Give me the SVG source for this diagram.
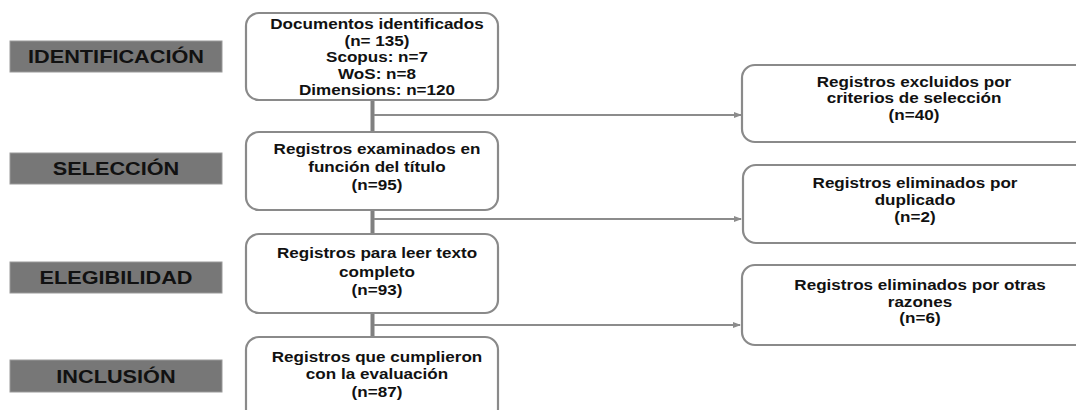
<svg xmlns="http://www.w3.org/2000/svg" width="1076" height="410" viewBox="0 0 1076 410">
<style>
.lab{fill:#777777;stroke:#9a9a9a;stroke-width:1}
.labt{font-family:"Liberation Sans",Arial,sans-serif;font-weight:bold;font-size:17.5px;fill:#111;text-anchor:middle}
.box{fill:#fff;stroke:#8a8a8a;stroke-width:2.2}
.t{font-family:"Liberation Sans",Arial,sans-serif;font-weight:bold;font-size:14px;fill:#111;text-anchor:middle}
.vc{stroke:#808080;stroke-width:4;fill:none}
.hc{stroke:#8c8c8c;stroke-width:2.2;fill:none}
</style>
<defs>
<marker id="ah" markerWidth="8" markerHeight="6" refX="7" refY="3" orient="auto" markerUnits="userSpaceOnUse">
<path d="M0,0 L8,3 L0,6 Z" fill="#8c8c8c"/>
</marker>
</defs>
<rect width="1076" height="410" fill="#fff"/>
<g id="label-identificacion"><rect class="lab" x="10" y="41" width="212" height="31"/><g transform="translate(116,0) scale(1.24,1)"><text class="labt" x="0" y="63">IDENTIFICACIÓN</text></g></g>
<g id="label-seleccion"><rect class="lab" x="10" y="153" width="212" height="31"/><g transform="translate(116,0) scale(1.24,1)"><text class="labt" x="0" y="175">SELECCIÓN</text></g></g>
<g id="label-elegibilidad"><rect class="lab" x="10" y="262" width="212" height="31"/><g transform="translate(116,0) scale(1.24,1)"><text class="labt" x="0" y="284">ELEGIBILIDAD</text></g></g>
<g id="label-inclusion"><rect class="lab" x="10" y="360" width="212" height="32"/><g transform="translate(116,0) scale(1.24,1)"><text class="labt" x="0" y="383">INCLUSIÓN</text></g></g>
<g id="connectors">
<line class="vc" x1="372.5" y1="100" x2="372.5" y2="337"/>
<line class="hc" x1="374" y1="115" x2="741" y2="115" marker-end="url(#ah)"/>
<line class="hc" x1="374" y1="219" x2="741" y2="219" marker-end="url(#ah)"/>
<line class="hc" x1="374" y1="325" x2="740" y2="325" marker-end="url(#ah)"/>
</g>
<g id="n-documentos"><rect class="box" x="246" y="13" width="252" height="87" rx="13"/>
<g transform="translate(377,0) scale(1.22,1)">
<text class="t" x="0" y="29">Documentos identificados</text>
<text class="t" x="0" y="46">(n= 135)</text>
<text class="t" x="0" y="62">Scopus: n=7</text>
<text class="t" x="0" y="79">WoS: n=8</text>
<text class="t" x="0" y="95">Dimensions: n=120</text></g></g>
<g id="n-examinados"><rect class="box" x="246" y="132" width="252" height="78" rx="13"/>
<g transform="translate(377,0) scale(1.22,1)">
<text class="t" x="0" y="154">Registros examinados en</text>
<text class="t" x="0" y="172">función del título</text>
<text class="t" x="0" y="190">(n=95)</text></g></g>
<g id="n-leer"><rect class="box" x="246" y="234" width="252" height="79" rx="13"/>
<g transform="translate(377,0) scale(1.22,1)">
<text class="t" x="0" y="258">Registros para leer texto</text>
<text class="t" x="0" y="277">completo</text>
<text class="t" x="0" y="295">(n=93)</text></g></g>
<g id="n-cumplieron"><rect class="box" x="246" y="337" width="252" height="85" rx="13"/>
<g transform="translate(377,0) scale(1.22,1)">
<text class="t" x="0" y="362">Registros que cumplieron</text>
<text class="t" x="0" y="379">con la evaluación</text>
<text class="t" x="0" y="397">(n=87)</text></g></g>
<g id="n-excluidos"><rect class="box" x="742" y="65" width="350" height="77" rx="13"/>
<g transform="translate(914,0) scale(1.22,1)">
<text class="t" x="0" y="87">Registros excluidos por</text>
<text class="t" x="0" y="103">criterios de selección</text>
<text class="t" x="0" y="120">(n=40)</text></g></g>
<g id="n-duplicado"><rect class="box" x="743" y="165" width="350" height="78" rx="13"/>
<g transform="translate(915,0) scale(1.22,1)">
<text class="t" x="0" y="188">Registros eliminados por</text>
<text class="t" x="0" y="205">duplicado</text>
<text class="t" x="0" y="222">(n=2)</text></g></g>
<g id="n-otras"><rect class="box" x="742" y="265" width="350" height="80" rx="13"/>
<g transform="translate(920,0) scale(1.22,1)">
<text class="t" x="0" y="290">Registros eliminados por otras</text>
<text class="t" x="0" y="307">razones</text>
<text class="t" x="0" y="323">(n=6)</text></g></g>
</svg>
